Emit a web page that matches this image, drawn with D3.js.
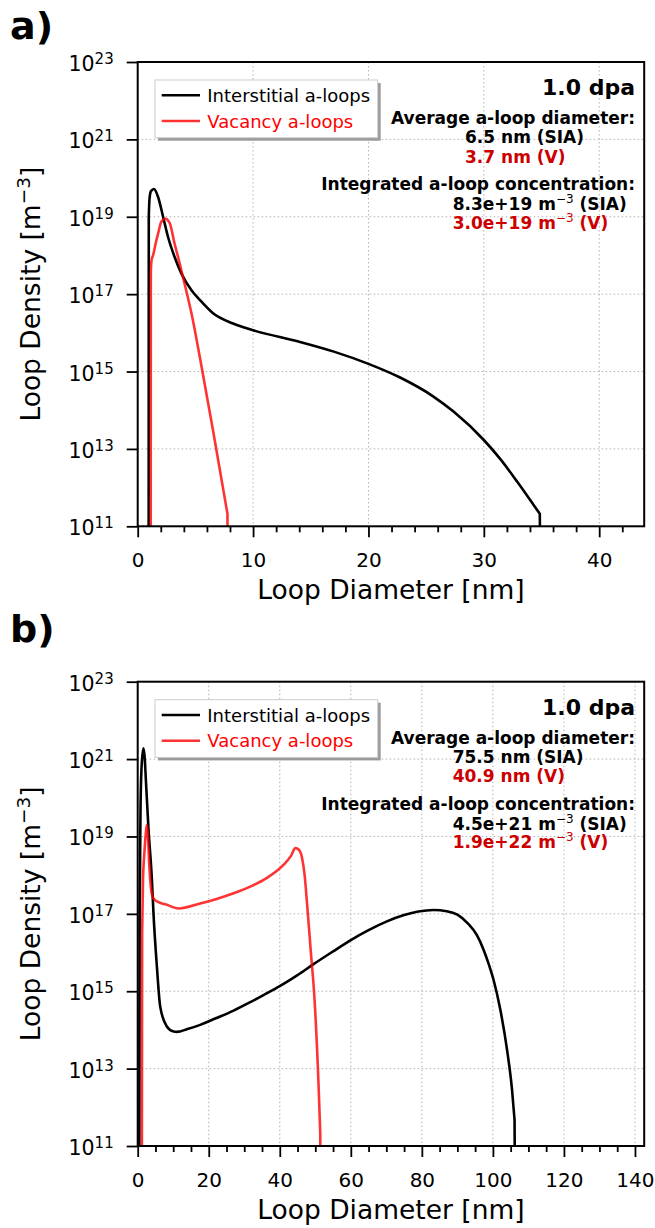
<!DOCTYPE html>
<html><head><meta charset="utf-8">
<script src="https://cdn.jsdelivr.net/npm/d3@7"></script>
<style>
body{margin:0;background:#fff;}
svg{display:block;font-family:"DejaVu Sans",sans-serif;}
</style></head><body>
<svg id="fig" width="655" height="1228"></svg>
<script>
// ---------- panel a) : loop size distributions ----------
const diamA_SIA = [0.95, 0.96, 1.02, 1.15, 1.41, 1.76, 2.2, 2.63, 3.2, 3.79, 4.66, 5.38, 6.53, 8.27, 10.0, 14.0, 17.0, 20.0, 22.7, 25.6, 27.4, 30.0, 31.4, 32.9, 34.33, 34.85, 34.9];
const densA_SIA = [1e10, 1.0e19, 2.8e19, 4.6e19, 5.2e19, 3.3e19, 1.0e19, 3.0e18, 9.1e17, 3.4e17, 1.26e17, 7.1e16, 3.2e16, 1.74e16, 1.17e16, 5.9e15, 3.27e15, 1.58e15, 7.1e14, 2.29e14, 9.1e13, 1.7e13, 5.6e12, 1.41e12, 3.5e11, 2.1e11, 1e10];
const diamA_V = [1.13, 1.14, 1.2, 1.33, 1.55, 1.76, 2.05, 2.4, 2.78, 3.2, 3.64, 4.2, 4.66, 5.38, 6.53, 7.78, 7.8];
const densA_V = [1e10, 4.0e17, 7.6e17, 1.0e18, 2.0e18, 3.6e18, 7.4e18, 8.9e18, 6.8e18, 2.0e18, 6.2e17, 1.26e17, 3.2e16, 2.4e15, 3.0e13, 2.1e11, 1e10];

// ---------- panel b) ----------
const diamB_SIA = [0.45, 0.55, 0.8, 1.15, 1.63, 2.0, 2.3, 3.05, 4.0, 4.45, 5.4, 6.34, 8.2, 10.1, 11.0, 14.0, 17.6, 22.0, 27.0, 32.0, 36.0, 40.0, 45.0, 49.5, 55.0, 60.0, 65.0, 70.0, 75.0, 79.0, 83.3, 87.0, 90.0, 93.0, 95.5, 97.4, 99.0, 100.2, 102.1, 104.0, 105.4, 106.1, 106.2];
const densB_SIA = [1e10, 1e17, 6.3e19, 7.9e20, 1.9e21, 1.0e21, 2.9e20, 1.5e19, 7.6e17, 1.0e17, 4.4e15, 4.0e14, 1.23e14, 9.1e13, 8.9e13, 1.05e14, 1.35e14, 2.0e14, 3.16e14, 5.4e14, 8.5e14, 1.35e15, 2.6e15, 5.0e15, 1.07e16, 2.1e16, 3.8e16, 6.3e16, 9.3e16, 1.15e17, 1.26e17, 1.17e17, 9.5e16, 5.6e16, 2.8e16, 1.17e16, 4.5e15, 1.95e15, 3.3e14, 3.0e13, 2.8e12, 4.7e11, 1e10];
const diamB_V = [1.17, 1.25, 1.5, 1.9, 2.3, 2.6, 2.9, 3.24, 3.8, 4.45, 5.86, 8.0, 11.5, 17.6, 22.0, 27.0, 32.0, 36.4, 41.1, 43.2, 44.4, 45.3, 46.2, 47.0, 47.6, 48.7, 49.8, 50.9, 51.4, 51.45];
const densB_V = [1e10, 3.2e16, 7.9e17, 4.0e18, 1.26e19, 2.0e19, 1.0e19, 2.0e18, 4.2e17, 2.5e17, 2.0e17, 1.74e17, 1.38e17, 1.86e17, 2.4e17, 3.4e17, 5.2e17, 8.5e17, 1.86e18, 3.2e18, 5.0e18, 4.6e18, 3.0e18, 1.0e18, 2.3e17, 1.17e16, 5.9e14, 4.2e12, 2.1e11, 1e10];

// ---------- axes ticks ----------
const yExponents = [11, 13, 15, 17, 19, 21, 23];
const xTicksA = [0, 10, 20, 30, 40];
const xTicksB = [0, 20, 40, 60, 80, 100, 120, 140];

// ---------- labels ----------
const seriesNames = ["Interstitial a-loops", "Vacancy a-loops"];
const doseText = "1.0 dpa";
const diamHeader = "Average a-loop diameter:";
const concHeader = "Integrated a-loop concentration:";
const avgDiamA = ["6.5 nm (SIA)", "3.7 nm (V)"];
const concA = [["8.3e+19", "SIA"], ["3.0e+19", "V"]];
const avgDiamB = ["75.5 nm (SIA)", "40.9 nm (V)"];
const concB = [["4.5e+21", "SIA"], ["1.9e+22", "V"]];

const black = "#000000", red = "#ff0000", textRed = "#cc0000";

const panels = [
  {tag: "a)", tagY: 39, top: 62, xMax: 43.9, xTicks: xTicksA, minorStep: 2,
   sia: [diamA_SIA, densA_SIA], vac: [diamA_V, densA_V],
   diam: avgDiamA, conc: concA, diamX: 465, concX: 452.7},
  {tag: "b)", tagY: 642, top: 681.7, xMax: 142.6, xTicks: xTicksB, minorStep: 5,
   sia: [diamB_SIA, densB_SIA], vac: [diamB_V, densB_V],
   diam: avgDiamB, conc: concB, diamX: 452.7, concX: 452.7}
];

const svg = d3.select("#fig");
const L = 137.7, R = 644.2, PH = 464.3;
const font = "DejaVu Sans";

panels.forEach((p, pi) => {
  const T = p.top, B = T + PH;
  const x = d3.scaleLinear().domain([0, p.xMax]).range([L, R]);
  const y = d3.scaleLog().domain([1e11, 1e23]).range([B, T]);
  const g = svg.append("g");

  // panel tag
  g.append("text").attr("x", 10).attr("y", p.tagY)
    .attr("font-size", 38).attr("font-weight", "bold").text(p.tag);

  // grid
  const grid = g.append("g").attr("stroke", "#b0b0b0").attr("stroke-width", 1)
    .attr("stroke-dasharray", "1.5,2.5");
  p.xTicks.filter(v => v > 0 && v < p.xMax).forEach(v => {
    grid.append("line").attr("x1", x(v)).attr("x2", x(v)).attr("y1", T).attr("y2", B);
  });
  yExponents.forEach(e => {
    const v = Math.pow(10, e);
    grid.append("line").attr("x1", L).attr("x2", R).attr("y1", y(v)).attr("y2", y(v));
  });

  // curves: smooth body, straight rise at the first bin and drop at the last bin
  const clipId = "clip" + pi;
  g.append("clipPath").attr("id", clipId).append("rect")
    .attr("x", L).attr("y", T).attr("width", R - L).attr("height", PH);
  const line = d3.line().x(d => x(d[0])).y(d => y(d[1])).curve(d3.curveMonotoneX);
  const pathFor = s => {
    const pts = s[0].map((v, i) => [v, s[1][i]]);
    const first = pts[0], last = pts[pts.length - 1];
    const body = line(pts.slice(1, -1));
    return `M${x(first[0])},${y(first[1])}L` + body.slice(1) + `L${x(last[0])},${y(last[1])}`;
  };
  const curves = g.append("g").attr("clip-path", `url(#${clipId})`)
    .attr("fill", "none").attr("stroke-width", 2.6).attr("stroke-linejoin", "round");
  curves.append("path").attr("d", pathFor(p.sia)).attr("stroke", black);
  curves.append("path").attr("d", pathFor(p.vac)).attr("stroke", red).attr("stroke-opacity", 0.8);

  // x axis
  const minor = d3.range(0, p.xMax + 1e-9, p.minorStep).filter(v => !p.xTicks.includes(v));
  const xMinor = g.append("g").attr("transform", `translate(0,${B})`)
    .call(d3.axisBottom(x).tickValues(minor).tickSize(6).tickFormat(""));
  const xMajor = g.append("g").attr("transform", `translate(0,${B})`)
    .call(d3.axisBottom(x).tickValues(p.xTicks).tickSize(11).tickPadding(8)
      .tickFormat(d3.format("d")));
  [xMinor, xMajor].forEach(a => {
    a.select(".domain").remove();
    a.selectAll(".tick line").attr("stroke", "#000").attr("stroke-width", 1.8);
  });
  xMajor.selectAll(".tick text").attr("font-family", font).attr("font-size", 20)
    .attr("fill", "#000").attr("dy", null).attr("y", 40.7);

  // y axis
  const yAx = g.append("g").attr("transform", `translate(${L},0)`)
    .call(d3.axisLeft(y).tickValues(yExponents.map(e => Math.pow(10, e))).tickSize(11).tickFormat(""));
  yAx.select(".domain").remove();
  yAx.selectAll(".tick line").attr("stroke", "#000").attr("stroke-width", 1.8);
  yAx.selectAll(".tick").each(function(d) {
    const t = d3.select(this).append("text").attr("x", -24).attr("y", 8.5)
      .attr("text-anchor", "end").attr("font-family", font).attr("font-size", 20.5).attr("fill", "#000");
    t.append("tspan").text("10");
    t.append("tspan").attr("dy", -7).attr("font-size", 15).text(Math.round(Math.log10(d)));
  });

  // frame
  g.append("rect").attr("x", L).attr("y", T).attr("width", R - L).attr("height", PH)
    .attr("fill", "none").attr("stroke", "#000").attr("stroke-width", 2);

  // axis titles
  g.append("text").attr("x", (L + R) / 2).attr("y", B + 73).attr("text-anchor", "middle")
    .attr("font-size", 26.5).text("Loop Diameter [nm]");
  const yl = g.append("text").attr("transform", `translate(39.5,${(T + B) / 2}) rotate(-90)`)
    .attr("text-anchor", "middle").attr("font-size", 26.5);
  yl.append("tspan").text("Loop Density [m");
  yl.append("tspan").attr("dy", -10).attr("font-size", 18.5).text("\u22123");
  yl.append("tspan").attr("dy", 10).text("]");

  // legend
  const lg = g.append("g").attr("transform", `translate(155,${T + 18})`);
  lg.append("rect").attr("x", 3).attr("y", 3).attr("width", 222.7).attr("height", 57.7).attr("fill", "#9a9a9a");
  lg.append("rect").attr("width", 222.7).attr("height", 57.7).attr("fill", "#fff")
    .attr("stroke", "#cccccc").attr("stroke-width", 1);
  [[black, 1, black], [red, 0.8, red]].forEach((c, i) => {
    const yy = 15.3 + i * 25.7;
    lg.append("line").attr("x1", 6.7).attr("x2", 45).attr("y1", yy).attr("y2", yy)
      .attr("stroke", c[0]).attr("stroke-opacity", c[1]).attr("stroke-width", 2.6);
    lg.append("text").attr("x", 52.3).attr("y", yy + 6.6).attr("font-size", 18)
      .attr("fill", c[2]).text(seriesNames[i]);
  });

  // annotation block
  const ax = 635;
  g.append("text").attr("x", ax).attr("y", T + 33).attr("text-anchor", "end")
    .attr("font-size", 22).attr("font-weight", "bold").text(doseText);
  g.append("text").attr("x", ax).attr("y", T + 62).attr("text-anchor", "end")
    .attr("font-size", 17).attr("font-weight", "bold").text(diamHeader);
  p.diam.forEach((s, i) => {
    g.append("text").attr("x", p.diamX).attr("y", T + 81 + i * 19.5)
      .attr("font-size", 17).attr("font-weight", "bold")
      .attr("fill", i === 0 ? black : textRed).text(s);
  });
  g.append("text").attr("x", ax).attr("y", T + 128).attr("text-anchor", "end")
    .attr("font-size", 17).attr("font-weight", "bold").text(concHeader);
  p.conc.forEach((c, i) => {
    const t = g.append("text").attr("x", p.concX).attr("y", T + 148 + i * 18.5)
      .attr("font-size", 17).attr("font-weight", "bold")
      .attr("fill", i === 0 ? black : textRed);
    t.append("tspan").text(c[0] + " m");
    t.append("tspan").attr("dy", -7).attr("font-size", 12).attr("font-weight", "normal").text("\u22123");
    t.append("tspan").attr("dy", 7).text(` (${c[1]})`);
  });
});
</script>
</body></html>
